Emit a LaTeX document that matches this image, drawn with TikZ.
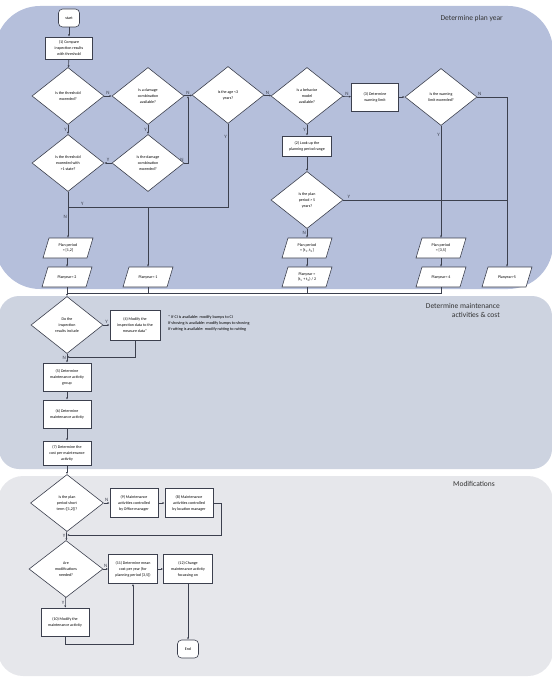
\documentclass[tikz,border=0pt]{standalone}
\usepackage{fontspec}
\setmainfont{Carlito}
\usetikzlibrary{shapes.geometric,arrows.meta,positioning,calc}
\definecolor{pmbandA}{RGB}{181,191,219}
\definecolor{pmbandB}{RGB}{205,211,224}
\definecolor{pmbandC}{RGB}{230,231,235}
\definecolor{pmink}{RGB}{60,64,78}
\tikzset{
  pmbox/.style={rectangle,draw=pmink,fill=white,line width=0.6pt,minimum width=48pt,minimum height=28pt,inner sep=1pt,align=center,font=\fontsize{4}{6}\selectfont},
  pmdia/.style={diamond,draw=pmink,fill=white,line width=0.6pt,minimum width=72pt,minimum height=57pt,inner sep=0pt,align=center,font=\fontsize{4}{6}\selectfont},
  pmio/.style={rectangle,minimum width=38pt,minimum height=20pt,inner sep=0pt,align=center,font=\fontsize{4}{5.5}\selectfont},
  pmiobg/.style={fill=white,draw=pmink,line width=0.6pt},
  pmterm/.style={rectangle,rounded corners=4pt,draw=pmink,fill=white,line width=0.6pt,minimum width=21pt,minimum height=18pt,inner sep=1pt,font=\fontsize{4}{5}\selectfont},
  pmarc/.style={-{Latex[length=2.2pt,width=2pt]},draw=pmink,line width=0.6pt},
  pmline/.style={draw=pmink,line width=0.6pt},
  pmlab/.style={font=\fontsize{5}{5}\selectfont,text=pmink,inner sep=0.8pt},
  pmtitle/.style={font=\fontsize{7.5}{9.5}\selectfont,text=black!80,align=right,anchor=north east,inner sep=0pt}
}
% slanted data box: name, centre, text
\newcommand{\pmpara}[3]{%
  \path[pmiobg] ($(#2)+(-25,10)$) -- ++(44,0) -- ++(6,-20) -- ++(-44,0) -- cycle;
  \node[pmio] (#1) at (#2) {#3};}

\begin{document}
\begin{tikzpicture}[x=1pt,y=-1pt]
  \useasboundingbox (0,0) rectangle (551,682);
  % bands
  \fill[pmbandA,rounded corners=45pt] (-5,6) rectangle (553,289);
  \fill[pmbandB,rounded corners=20pt] (-1,296) rectangle (552,469);
  \fill[pmbandC,rounded corners=25pt] (-2,476) rectangle (553,676);
  \node[pmtitle] (t1) at (503,15) {Determine plan year};
  \node[pmtitle] (t2) at (500,303) {Determine maintenance\\activities \& cost};
  \node[pmtitle] (t3) at (495,481) {Modifications};

  % determine plan year
  \node[pmterm] (start) at (69,18) {start};
  \node[pmbox,minimum width=47pt,minimum height=22pt] (b1) at (69,48) {(1) Compare\\inspection results\\with threshold};
  \node[pmdia] (d1) at (68,96) {Is the threshold\\exceeded?};
  \node[pmdia] (d2) at (148,96) {Is a damage\\combination\\available?};
  \node[pmdia] (d3) at (228,95) {Is the age <3\\years?};
  \node[pmdia] (d4) at (307,96) {Is a behavior\\model\\available?};
  \node[pmbox,minimum width=47pt] (b3) at (375,97) {(3) Determine\\warning limit};
  \node[pmdia] (d5) at (441,97) {Is the warning\\limit exceeded?};
  \node[pmdia] (d6) at (68,163) {Is the threshold\\exceeded with\\>1 state?};
  \node[pmdia] (d7) at (148,163) {Is the damage\\combination\\exceeded?};
  \node[pmbox,minimum width=49pt,minimum height=20pt] (b2) at (307,146) {(2) Look up the\\planning period range};
  \node[pmdia] (d8) at (307,200) {Is the plan\\period > 5\\years?};
  \pmpara{pp12}{68,248}{Plan period\\= [1,2]}
  \pmpara{py2}{67,277}{Planyear= 2}
  \pmpara{py1}{148,277}{Planyear= 1}
  \pmpara{ppt}{307,248}{Plan period\\= [t\textsubscript{1}, t\textsubscript{2}]}
  \pmpara{pyt}{307,277}{Planyear =\\(t\textsubscript{1} + t\textsubscript{2}) / 2}
  \pmpara{pp35}{441,248}{Plan period\\= [3,5]}
  \pmpara{py4}{441,277}{Planyear= 4}
  \pmpara{py5}{507,277}{Planyear>5}
  \coordinate (j7) at (188,96);
  \coordinate (j3) at (148,207);
  \coordinate (j6) at (68,207);
  \coordinate (j8) at (507,200);
  \coordinate (jn) at (67,293);

  \draw[pmarc] (start) -- (b1);
  \draw[pmarc] (b1) -- (d1);
  \draw[pmarc] (d1) -- (d2) node[pmlab,midway,above]{N};
  \draw[pmarc] (d2) -- (d3) node[pmlab,midway,above]{N};
  \draw[pmarc] (d3) -- (d4) node[pmlab,midway,above]{N};
  \draw[pmarc] (d4) -- (b3) node[pmlab,midway,above]{N};
  \draw[pmarc] (b3) -- (d5);
  \draw[pmarc] (d5.east) -| (py5.north) node[pmlab,pos=0.04,above]{N};
  \draw[pmarc] (d5) -- (pp35) node[pmlab,pos=0.08,left]{Y};
  \draw[pmarc] (pp35) -- (py4);
  \draw[pmarc] (d1) -- (d6) node[pmlab,midway,left]{Y};
  \draw[pmarc] (d2) -- (d7) node[pmlab,midway,left]{Y};
  \draw[pmarc] (d7) -- (d6) node[pmlab,midway,above]{Y};
  \draw[pmarc] (d7.east) -| (j7) node[pmlab,pos=0.05,above left]{N};
  \draw[pmline] (d3.south) |- (j3) node[pmlab,pos=0.08,left]{Y};
  \draw[pmarc] (j3) -- (py1);
  \draw[pmline] (j6) -- (j3) node[pmlab,pos=0.18,above]{Y};
  \draw[pmarc] (d6) -- (pp12) node[pmlab,pos=0.55,left]{N};
  \draw[pmarc] (pp12.south -| py2) -- (py2);
  \draw[pmarc] (d4) -- (b2) node[pmlab,midway,left]{Y};
  \draw[pmarc] (b2) -- (d8);
  \draw[pmarc] (d8) -- (ppt) node[pmlab,midway,left]{N};
  \draw[pmarc] (ppt) -- (pyt);
  \draw[pmline] (d8.east) -- (j8) node[pmlab,pos=0.02,above right]{Y};
  \draw[pmline] (py4.south) |- (jn);
  \draw[pmline] (pyt.south) |- (jn);
  \draw[pmline] (py1.south) |- (jn);

  % determine maintenance activities & cost
  \node[pmdia] (d9) at (67,325) {Do the\\inspection\\results include};
  \node[pmbox,minimum width=50pt,minimum height=30pt] (b4) at (135,325) {(4) Modify the\\inspection data to the\\measure data*};
  \node[align=left,anchor=north west,inner sep=0pt,font=\fontsize{4.2}{6.4}\selectfont] (note) at (168,315) {* If CI is available: modify bumps to CI\\If shoving is available: modify bumps to shoving\\If rutting is available: modify rutting to rutting};
  \node[pmbox] (b5) at (67,377) {(5) Determine\\maintenance activity\\group};
  \node[pmbox] (b6) at (67,414) {(6) Determine\\maintenance activity};
  \node[pmbox,minimum height=24pt] (b7) at (67,453) {(7) Determine the\\cost per maintenance\\activity};
  \coordinate (j4) at (67,357);

  \draw[pmarc] (py2) -- (d9);
  \draw[pmarc] (d9) -- (b4) node[pmlab,midway,above]{Y};
  \draw[pmarc] (b4.south) |- (j4);
  \draw[pmarc] (d9) -- (b5) node[pmlab,midway,left]{N};
  \draw[pmarc] (b5) -- (b6);
  \draw[pmarc] (b6) -- (b7);

  % modifications
  \node[pmdia,minimum width=73pt] (d10) at (67,503) {Is the plan\\period short\\term ([1,2])?};
  \node[pmbox,minimum height=29pt] (b9) at (134,503) {(9) Maintenance\\activities controlled\\by Office manager};
  \node[pmbox,minimum height=29pt] (b8) at (189,503) {(8) Maintenance\\activities controlled\\by location manager};
  \node[pmdia,minimum width=74pt] (d11) at (66,569) {Are\\modifications\\needed?};
  \node[pmbox,minimum width=49pt,minimum height=29pt] (b11) at (133,569) {(11) Determine mean\\cost per year (for\\planning period [3,5])};
  \node[pmbox,minimum width=49pt,minimum height=29pt] (b12) at (188,569) {(12) Change\\maintenance activity\\focussing on};
  \node[pmbox] (b10) at (65,622) {(10) Modify the\\maintenance activity};
  \node[pmterm] (end) at (188,649) {End};
  \coordinate (j9) at (67,535);

  \draw[pmarc] (b7) -- (d10);
  \draw[pmarc] (d10) -- (b9) node[pmlab,midway,above]{N};
  \draw[pmarc] (b9) -- (b8);
  \draw[pmarc] (b8.east) -- ++(8,0) |- (j9);
  \draw[pmarc] (d10) -- (d11) node[pmlab,pos=0.45,left]{Y};
  \draw[pmarc] (d11) -- (b11) node[pmlab,midway,above]{N};
  \draw[pmarc] (b11) -- (b12);
  \draw[pmarc] (d11) -- (b10) node[pmlab,midway,left]{Y};
  \draw[pmarc] (b10.south) -- ++(0,8) -| (b11.south);
  \draw[pmarc] (b12) -- (end);
\end{tikzpicture}
\end{document}
